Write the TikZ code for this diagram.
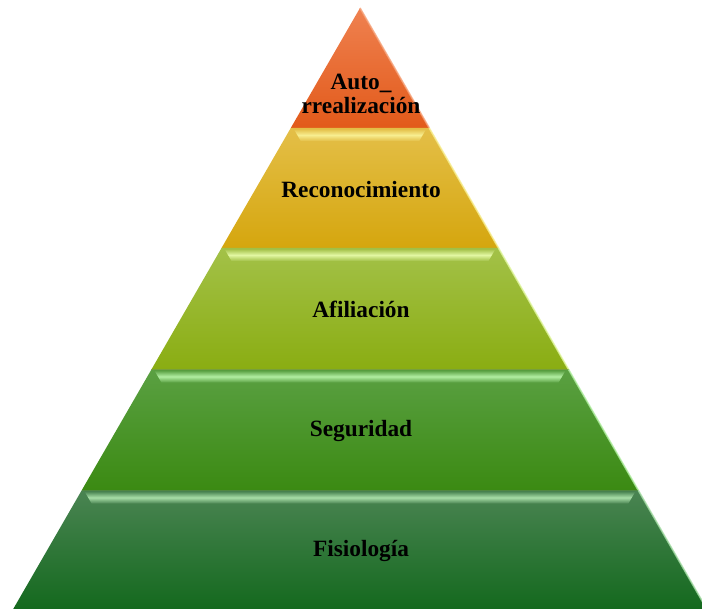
\documentclass[tikz,border=0pt]{standalone}
\usepackage{fontspec}
\setmainfont{Liberation Serif}
\definecolor{autoT}{HTML}{EF8150}
\definecolor{autoB}{HTML}{E25A1A}
\definecolor{autoH}{HTML}{F6A47C}
\definecolor{reconT}{HTML}{E4BF48}
\definecolor{reconB}{HTML}{D5A60E}
\definecolor{reconH}{HTML}{F7EE90}
\definecolor{afilT}{HTML}{A3C148}
\definecolor{afilB}{HTML}{8AAD12}
\definecolor{afilH}{HTML}{E2F7A2}
\definecolor{segurT}{HTML}{5AA042}
\definecolor{segurB}{HTML}{3B8A12}
\definecolor{segurH}{HTML}{B2EFA2}
\definecolor{fisioT}{HTML}{4A8452}
\definecolor{fisioB}{HTML}{14691E}
\definecolor{fisioH}{HTML}{A8DFA8}
\tikzset{
  label text/.style={font=\bfseries\fontsize{17.5}{18}\selectfont, align=center, text=black}
}
\begin{document}
\begin{tikzpicture}[x=0.75pt,y=-0.75pt]
\useasboundingbox (0,0) rectangle (702,609);
\clip (0,0) rectangle (702,609);
% layers of the pyramid, from the top
\foreach \t/\b/\ct/\cb/\hl in {8/128/autoT/autoB/autoH,128/248/reconT/reconB/reconH,248/369.5/afilT/afilB/afilH,369.5/490.5/segurT/segurB/segurH,490.5/609/fisioT/fisioB/fisioH}
{
  \pgfmathsetmacro\wt{0.577*(\t-8)}
  \pgfmathsetmacro\wb{0.577*(\b-8)}
  \shade[top color=\ct, bottom color=\cb]
    (360-\wt,\t) -- (360+\wt,\t) -- (360+\wb,\b) -- (360-\wb,\b) -- cycle;
  % bevel: light right edge
  \draw[\hl, line width=1.2pt, opacity=0.8] (360+\wt,\t) -- (360+\wb,\b);
  \draw[\cb!70!black, line width=0.6pt, opacity=0.5] (360-\wb,\b) -- (360+\wb,\b);
}
% bevel: light strips at the top of the lower layers
\foreach \t/\ct/\hl in {128/reconT/reconH,248/afilT/afilH,369.5/segurT/segurH,490.5/fisioT/fisioH}
{
  \pgfmathsetmacro\wt{0.577*(\t-8)}
  \shade[top color=\ct, bottom color=\ct, middle color=\hl]
    (360-\wt+3,\t+1) -- (360+\wt-3,\t+1) -- (360+\wt-10,\t+13) -- (360-\wt+10,\t+13) -- cycle;
}
\node[label text] (auto) at (361,94) {Auto\_\\rrealización};
\node[label text] (recon) at (361,190) {Reconocimiento};
\node[label text] (afil) at (361,309) {Afiliación};
\node[label text] (segur) at (361,431) {Seguridad};
\node[label text] (fisio) at (361,551) {Fisiología};
\end{tikzpicture}
\end{document}
